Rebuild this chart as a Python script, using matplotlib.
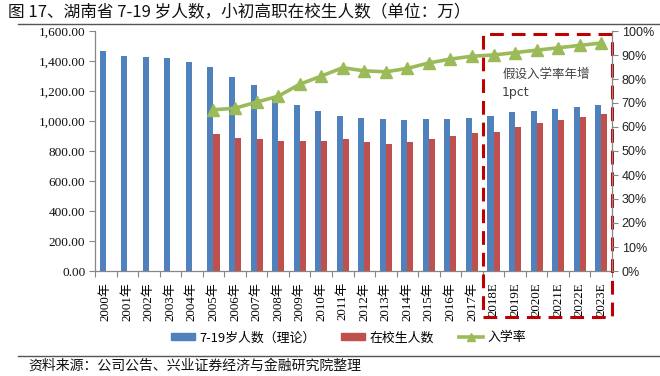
import matplotlib
matplotlib.use("Agg")
import matplotlib.pyplot as plt
from matplotlib.patches import Rectangle, Patch
from matplotlib.lines import Line2D
from matplotlib.ticker import FuncFormatter, MultipleLocator
import numpy as np

plt.rcParams['font.family'] = ['Noto Sans CJK SC', 'DejaVu Sans']

years = ["2000年", "2001年", "2002年", "2003年", "2004年", "2005年", "2006年", "2007年",
         "2008年", "2009年", "2010年", "2011年", "2012年", "2013年", "2014年", "2015年",
         "2016年", "2017年", "2018E", "2019E", "2020E", "2021E", "2022E", "2023E"]
pop_7_19 = [1470, 1432, 1424, 1417, 1392, 1359, 1292, 1238, 1170, 1107, 1064, 1036,
            1022, 1015, 1010, 1015, 1015, 1022, 1036, 1058, 1069, 1080, 1093, 1109]
students = [None, None, None, None, None, 915, 884, 877, 864, 864, 864, 877,
            857, 844, 857, 877, 897, 917, 930, 957, 984, 1004, 1029, 1049]
enroll_rate = [None, None, None, None, None, 0.672, 0.678, 0.704, 0.728, 0.778, 0.812, 0.847,
               0.834, 0.830, 0.844, 0.867, 0.883, 0.895, 0.900, 0.910, 0.920, 0.930, 0.940, 0.950]

title = "图 17、湖南省 7-19 岁人数，小初高职在校生人数（单位：万）"
source = "资料来源：公司公告、兴业证券经济与金融研究院整理"
legend_labels = ["7-19岁人数（理论）", "在校生人数", "入学率"]
note_line1 = "假设入学率年增"
note_line2 = "1pct"

BLUE = "#4F81BD"
RED = "#C0504D"
GREEN = "#9BBB59"
DRED = "#C00000"
SPINE = "#868686"

fig = plt.figure(figsize=(6.6, 3.76), dpi=100)
ax = fig.add_axes([95/660, 1-271/376, (612-95)/660, (271-31)/376])
ax2 = ax.twinx()

x = np.arange(len(years))
w = 0.28
ax.bar(x - w/2, pop_7_19, width=w, color=BLUE, zorder=2)
s_idx = [i for i, v in enumerate(students) if v is not None]
ax.bar(x[s_idx] + w/2, [students[i] for i in s_idx], width=w, color=RED, zorder=2)

r_idx = [i for i, v in enumerate(enroll_rate) if v is not None]
ax2.plot(x[r_idx], [enroll_rate[i] for i in r_idx], color=GREEN, lw=2.6,
         marker='^', markersize=8.5, markeredgecolor=GREEN, zorder=3)

ax.set_xlim(-0.5, len(years) - 0.5)
ax.set_ylim(0, 1600)
ax2.set_ylim(0, 1.0)
ax.yaxis.set_major_locator(MultipleLocator(200))
ax2.yaxis.set_major_locator(MultipleLocator(0.1))
ax.yaxis.set_major_formatter(FuncFormatter(lambda v, p: f"{v:,.2f}"))
ax2.yaxis.set_major_formatter(FuncFormatter(lambda v, p: f"{v*100:.0f}%"))

for a in (ax, ax2):
    for s in a.spines.values():
        s.set_color(SPINE)
        s.set_linewidth(0.9)
    a.spines['top'].set_visible(False)
ax.spines['right'].set_visible(False)
ax2.spines['left'].set_visible(False)
ax2.spines['bottom'].set_visible(False)

ax.tick_params(axis='y', length=4, color=SPINE, labelsize=9.5, pad=3)
ax2.tick_params(axis='y', length=4, color=SPINE, labelsize=9, pad=3)
for lb in ax.get_yticklabels():
    lb.set_family(['Liberation Serif'])
    lb.set_color('#111111')
for lb in ax2.get_yticklabels():
    lb.set_family(['Liberation Sans'])
    lb.set_color('#222222')

ax.set_xticks(np.arange(len(years) + 1) - 0.5, minor=False)
ax.set_xticklabels([])
ax.tick_params(axis='x', which='major', length=4, color=SPINE)
ax.set_xticks(x, minor=True)
ax.set_xticklabels(years, minor=True, rotation=90, fontsize=9.3,
                   family=['Liberation Serif', 'Noto Sans CJK SC'])
ax.tick_params(axis='x', which='minor', length=0, pad=8)

# dashed forecast box
rect = Rectangle((17.5, -305), 6.0, 1885, fill=False, edgecolor=DRED, lw=2.2,
                 linestyle=(0, (4.5, 2.6)), clip_on=False, zorder=5)
ax.add_patch(rect)

ax.text(18.4, 1313, note_line1, fontsize=9, color='#404040', va='center', ha='left', zorder=6)
ax.text(18.4, 1193, note_line2, fontsize=9, color='#404040', va='center', ha='left', zorder=6,
        family=['DejaVu Sans'])

# legend
handles = [Patch(color=BLUE), Patch(color=RED),
           Line2D([0], [0], color=GREEN, lw=2.6, marker='^', markersize=6)]
fig.legend(handles, legend_labels, loc='center', bbox_to_anchor=(0.528, 1-338/376),
           ncol=3, frameon=False, fontsize=9.3, handlelength=1.9, handleheight=0.45,
           columnspacing=1.9, handletextpad=0.35)

# title and source
fig.text(8/660, 1-12/376, title, fontsize=12, va='center', ha='left', color='#111111')
fig.add_artist(Line2D([18/660, 1], [1-24/376]*2, color='#555555', lw=1.0))
fig.add_artist(Line2D([18/660, 1], [1-356/376]*2, color='#555555', lw=1.0))
fig.text(28/660, 1-366/376, source, fontsize=10, va='center', ha='left', color='#111111')

fig.savefig("out.png", dpi=100)
